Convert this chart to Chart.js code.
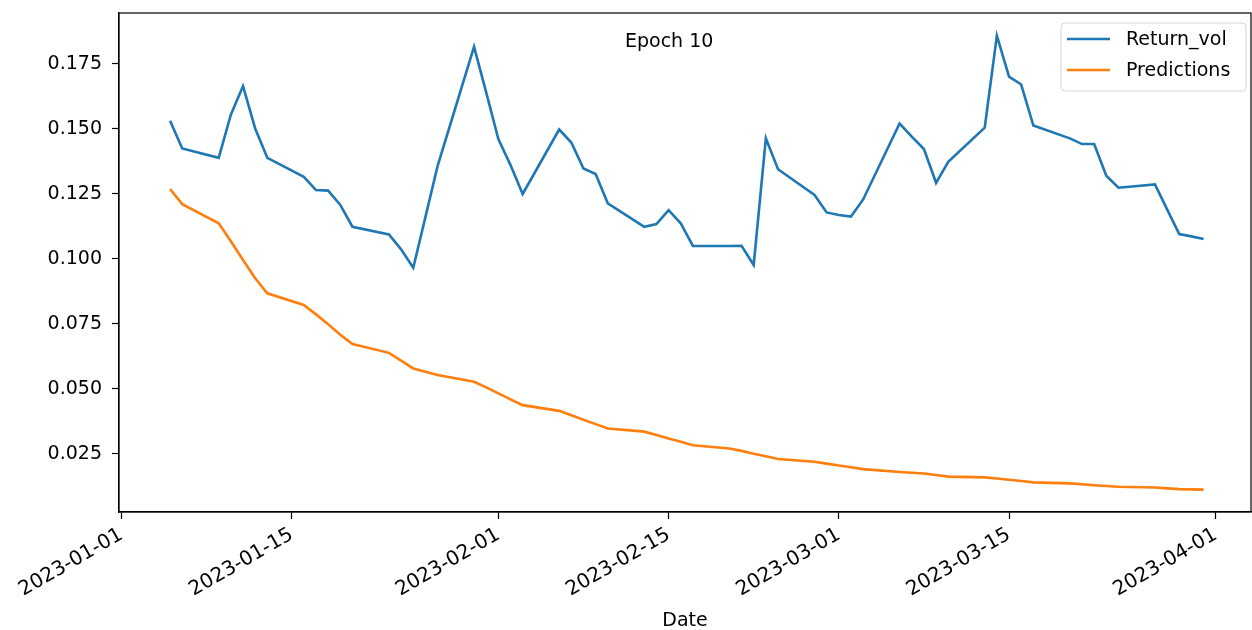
<!DOCTYPE html>
<html>
<head>
<meta charset="utf-8">
<script src="https://cdn.jsdelivr.net/npm/chart.js@4.4.0/dist/chart.umd.min.js"></script>
<style>
  html, body { margin: 0; padding: 0; background: #fff; }
  #wrap { width: 1252px; height: 630px; }
</style>
</head>
<body>
<div id="wrap"><canvas id="grafico" width="1252" height="630"></canvas></div>
<script>
// datas (dias úteis) e valores
const datas = [
  '2023-01-05','2023-01-06','2023-01-09','2023-01-10','2023-01-11','2023-01-12','2023-01-13',
  '2023-01-16','2023-01-17','2023-01-18','2023-01-19','2023-01-20',
  '2023-01-23','2023-01-24','2023-01-25','2023-01-26','2023-01-27',
  '2023-01-30','2023-01-31','2023-02-01','2023-02-02','2023-02-03',
  '2023-02-06','2023-02-07','2023-02-08','2023-02-09','2023-02-10',
  '2023-02-13','2023-02-14','2023-02-15','2023-02-16','2023-02-17',
  '2023-02-20','2023-02-21','2023-02-22','2023-02-23','2023-02-24',
  '2023-02-27','2023-02-28','2023-03-01','2023-03-02','2023-03-03',
  '2023-03-06','2023-03-07','2023-03-08','2023-03-09','2023-03-10',
  '2023-03-13','2023-03-14','2023-03-15','2023-03-16','2023-03-17',
  '2023-03-20','2023-03-21','2023-03-22','2023-03-23','2023-03-24',
  '2023-03-27','2023-03-28','2023-03-29','2023-03-30','2023-03-31'
];

const returnVol = [
  0.1531, 0.1424, 0.1388, 0.1554, 0.1664, 0.1501, 0.1388,
  0.1315, 0.1264, 0.1262, 0.1207, 0.1123,
  0.1093, 0.1036, 0.0965, 0.1160, 0.1356,
  0.1815, 0.1640, 0.1460, 0.1360, 0.1249,
  0.1497, 0.1447, 0.1347, 0.1326, 0.1213,
  0.1123, 0.1133, 0.1187, 0.1136, 0.1049,
  0.1049, 0.1050, 0.0976, 0.1463, 0.1344,
  0.1245, 0.1178, 0.1168, 0.1162, 0.1228,
  0.1520, 0.1470, 0.1422, 0.1292, 0.1373,
  0.1504, 0.1858, 0.1700, 0.1670, 0.1512,
  0.1463, 0.1441, 0.1441, 0.1319, 0.1273,
  0.1286, 0.1190, 0.1095, 0.1086, 0.1076
];

const predicoes = [
  0.1268, 0.1210, 0.1136, 0.1067, 0.0995, 0.0925, 0.0867,
  0.0822, 0.0786, 0.0748, 0.0708, 0.0672,
  0.0638, 0.0608, 0.0578, 0.0565, 0.0553,
  0.0527, 0.0505, 0.0482, 0.0459, 0.0437,
  0.0415, 0.0398, 0.0381, 0.0364, 0.0347,
  0.0335, 0.0322, 0.0309, 0.0296, 0.0283,
  0.0270, 0.0261, 0.0250, 0.0240, 0.0230,
  0.0219, 0.0212, 0.0205, 0.0198, 0.0191,
  0.0180, 0.0177, 0.0174, 0.0168, 0.0162,
  0.0159, 0.0155, 0.0150, 0.0145, 0.0140,
  0.0136, 0.0133, 0.0129, 0.0126, 0.0123,
  0.0120, 0.0117, 0.0114, 0.0113, 0.0112
];

const xTickLabels = ['2023-01-01','2023-01-15','2023-02-01','2023-02-15','2023-03-01','2023-03-15','2023-04-01'];
const yTicks = [0.025, 0.050, 0.075, 0.100, 0.125, 0.150, 0.175];

// converte data em dias desde 2023-01-01
const base = Date.UTC(2023, 0, 1);
function dia(s) {
  const p = s.split('-');
  return (Date.UTC(+p[0], +p[1] - 1, +p[2]) - base) / 86400000;
}

const xTicks = xTickLabels.map(dia);
const fonte = { family: 'DejaVu Sans', size: 19 };

// moldura completa (matplotlib desenha os 4 lados)
const moldura = {
  id: 'moldura',
  afterDraw(chart) {
    const a = chart.chartArea, ctx = chart.ctx;
    ctx.save();
    ctx.strokeStyle = '#000';
    ctx.lineWidth = 1.2;
    ctx.strokeRect(a.left, a.top, a.right - a.left, a.bottom - a.top);
    ctx.restore();
  }
};

// título dentro da área e legenda com caixa
const textos = {
  id: 'textos',
  afterDraw(chart) {
    const a = chart.chartArea, ctx = chart.ctx;
    ctx.save();
    ctx.font = '19px "DejaVu Sans"';
    ctx.fillStyle = '#000';
    ctx.textAlign = 'center';
    ctx.textBaseline = 'middle';
    ctx.fillText('Epoch 10', a.left + (a.right - a.left) * 0.486, a.top + 29);

    // legenda
    const w = 185, h = 68;
    const x0 = a.right - 5 - w, y0 = a.top + 10;
    ctx.beginPath();
    ctx.roundRect(x0, y0, w, h, 4);
    ctx.fillStyle = 'rgba(255,255,255,0.8)';
    ctx.fill();
    ctx.strokeStyle = '#d6d6d6';
    ctx.lineWidth = 1;
    ctx.stroke();
    ctx.textAlign = 'left';
    chart.data.datasets.forEach((ds, i) => {
      const y = y0 + 16 + i * 31;
      ctx.beginPath();
      ctx.moveTo(x0 + 6, y);
      ctx.lineTo(x0 + 49, y);
      ctx.strokeStyle = ds.borderColor;
      ctx.lineWidth = 2.6;
      ctx.stroke();
      ctx.fillStyle = '#000';
      ctx.fillText(ds.label, x0 + 65, y + 1);
    });
    ctx.restore();
  }
};

const dados = {
  datasets: [
    {
      label: 'Return_vol',
      data: datas.map((d, i) => ({ x: dia(d), y: returnVol[i] })),
      borderColor: '#1f77b4',
      backgroundColor: '#1f77b4',
      borderWidth: 2.6,
      pointRadius: 0,
      tension: 0
    },
    {
      label: 'Predictions',
      data: datas.map((d, i) => ({ x: dia(d), y: predicoes[i] })),
      borderColor: '#ff7f0e',
      backgroundColor: '#ff7f0e',
      borderWidth: 2.6,
      pointRadius: 0,
      tension: 0
    }
  ]
};

const config = {
  type: 'line',
  data: dados,
  options: {
    responsive: false,
    devicePixelRatio: 1,
    animation: false,
    layout: { padding: { top: 13, right: 1, left: 0, bottom: 0 } },
    plugins: {
      legend: { display: false },
      tooltip: { enabled: false }
    },
    scales: {
      x: {
        type: 'linear',
        min: -0.2,
        max: 92.9,
        afterBuildTicks: (s) => { s.ticks = xTicks.map(v => ({ value: v })); },
        afterFit: (s) => { s.height = 118; s.paddingLeft = 0; s.paddingRight = 0; },
        ticks: {
          autoSkip: false,
          minRotation: 30,
          maxRotation: 30,
          padding: 4,
          color: '#000',
          font: { family: 'DejaVu Sans', size: 20 },
          callback: (v) => xTickLabels[xTicks.indexOf(v)]
        },
        grid: { drawOnChartArea: false, tickLength: 7, tickColor: '#000', tickWidth: 1.2 },
        border: { color: '#000', width: 1.2 },
        title: { display: true, text: 'Date', color: '#000', font: fonte, padding: { top: 0, bottom: -2 } }
      },
      y: {
        min: 0.0026,
        max: 0.1945,
        afterBuildTicks: (s) => { s.ticks = yTicks.map(v => ({ value: v })); },
        afterFit: (s) => { s.width = 119; s.paddingTop = 0; s.paddingBottom = 0; },
        ticks: {
          padding: 10,
          color: '#000',
          font: fonte,
          callback: (v) => v.toFixed(3)
        },
        grid: { drawOnChartArea: false, tickLength: 7, tickColor: '#000', tickWidth: 1.2 },
        border: { color: '#000', width: 1.2 }
      }
    }
  },
  plugins: [moldura, textos]
};

const grafico = new Chart(document.getElementById('grafico'), config);
</script>
</body>
</html>
